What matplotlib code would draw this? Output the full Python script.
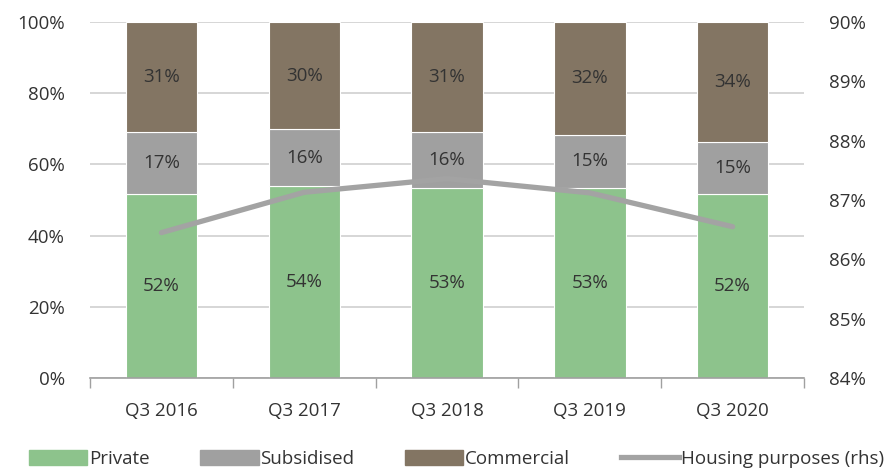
import numpy as np
import matplotlib
matplotlib.use("Agg")
import matplotlib.pyplot as plt
from matplotlib.patches import Patch
from matplotlib.lines import Line2D

plt.rcParams['font.family'] = ['Open Sans', 'DejaVu Sans']

quarters = ['Q3 2016', 'Q3 2017', 'Q3 2018', 'Q3 2019', 'Q3 2020']
private = np.array([51.7, 53.9, 53.4, 53.4, 51.7])
subsidised = np.array([17.4, 16.0, 15.7, 14.9, 14.7])
commercial = 100 - private - subsidised
housing = np.array([86.45, 87.13, 87.36, 87.12, 86.55])

c_priv = '#8dc38c'
c_subs = '#a0a0a0'
c_comm = '#837563'
c_line = '#a3a3a3'
c_text = '#333333'
fs = 13.5

fig = plt.figure(figsize=(8.95, 4.73), dpi=100)
ax = fig.add_axes([90/895, 1-378/473, (804-90)/895, (378-22)/473])
x = np.arange(len(quarters))
w = 0.5

ax.bar(x, private, w, color=c_priv, edgecolor='white', linewidth=0.8, zorder=2)
ax.bar(x, subsidised, w, bottom=private, color=c_subs, edgecolor='white', linewidth=0.8, zorder=2)
ax.bar(x, commercial, w, bottom=private+subsidised, color=c_comm, edgecolor='white', linewidth=0.8, zorder=2)

for i in x:
    ax.text(i, private[i]/2, f'{private[i]:.0f}%', ha='center', va='center', fontsize=fs, color=c_text, zorder=3)
    ax.text(i, private[i]+subsidised[i]/2, f'{subsidised[i]:.0f}%', ha='center', va='center', fontsize=fs, color=c_text, zorder=3)
    ax.text(i, private[i]+subsidised[i]+commercial[i]/2, f'{commercial[i]:.0f}%', ha='center', va='center', fontsize=fs, color=c_text, zorder=3)

ax.set_ylim(0, 100)
ax.set_xlim(-0.5, 4.5)
ax.set_yticks(np.arange(0, 101, 20))
ax.set_yticklabels([f'{v}%' for v in range(0, 101, 20)])
ax.yaxis.grid(True, color='#d0d0d0', linewidth=1.2, zorder=0)
ax.set_axisbelow(True)
ax.set_xticks(x)
ax.set_xticklabels(quarters)
ax.set_xticks(np.arange(-0.5, 4.6, 1), minor=True)
ax.tick_params(axis='x', which='major', length=0, pad=17, labelsize=fs, colors=c_text)
ax.tick_params(axis='x', which='minor', length=7, color='#a0a0a0', width=1)
ax.tick_params(axis='y', length=0, pad=18, labelsize=fs, colors=c_text)
for s in ['left', 'right', 'top']:
    ax.spines[s].set_visible(False)
ax.spines['bottom'].set_color('#a0a0a0')
ax.spines['bottom'].set_linewidth(1.2)

ax2 = ax.twinx()
ax2.plot(x, housing, color=c_line, linewidth=3.8, solid_capstyle='round', zorder=4)
ax2.set_ylim(84, 90)
ax2.set_yticks(np.arange(84, 91, 1))
ax2.set_yticklabels([f'{v}%' for v in range(84, 91)])
ax2.tick_params(axis='y', length=0, pad=18, labelsize=fs, colors=c_text)
for s in ['left', 'right', 'top', 'bottom']:
    ax2.spines[s].set_visible(False)

handles = [Patch(color=c_priv, label='Private'),
           Patch(color=c_subs, label='Subsidised'),
           Patch(color=c_comm, label='Commercial'),
           Line2D([0], [0], color=c_line, linewidth=3.8, label='Housing purposes (rhs)')]
leg = fig.legend(handles=handles, loc='lower center', bbox_to_anchor=(0.51, -0.025), ncol=4,
                 frameon=False, fontsize=fs, handlelength=3.1, handleheight=0.9,
                 handletextpad=0.1, columnspacing=2.7, labelcolor=c_text)

fig.savefig('out.png', dpi=100)
